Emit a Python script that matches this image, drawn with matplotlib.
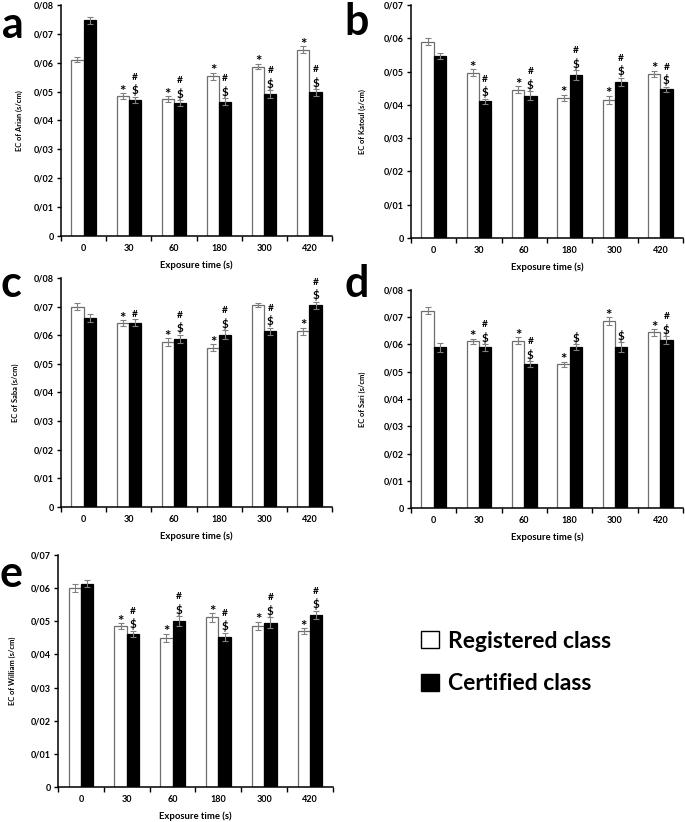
import numpy as np
import matplotlib
matplotlib.use('agg')
import matplotlib.pyplot as plt
from matplotlib.patches import Patch

plt.rcParams['font.family'] = ['Lato', 'DejaVu Sans']
plt.rcParams['font.weight'] = 'bold'

times = ['0', '30', '60', '180', '300', '420']

# a - Arian
arian_reg = [0.0610, 0.0484, 0.0474, 0.0553, 0.0587, 0.0645]
arian_reg_err = [0.0009, 0.0010, 0.0011, 0.0012, 0.0010, 0.0012]
arian_cert = [0.0747, 0.0472, 0.0460, 0.0465, 0.0491, 0.0497]
arian_cert_err = [0.0012, 0.0011, 0.0011, 0.0013, 0.0013, 0.0012]
arian_star = [0, 1, 1, 1, 1, 1]
arian_mark = ['', '#$', '#$', '#$', '#$', '#$']

# b - Katoul
katoul_reg = [0.0590, 0.0497, 0.0446, 0.0421, 0.0416, 0.0494]
katoul_reg_err = [0.0011, 0.0010, 0.0010, 0.0010, 0.0012, 0.0009]
katoul_cert = [0.0547, 0.0411, 0.0428, 0.0490, 0.0469, 0.0447]
katoul_cert_err = [0.0010, 0.0007, 0.0013, 0.0014, 0.0013, 0.0007]
katoul_star = [0, 1, 1, 1, 1, 1]
katoul_mark = ['', '#$', '#$', '#$', '#$', '#$']

# c - Saba
saba_reg = [0.0700, 0.0642, 0.0577, 0.0557, 0.0705, 0.0614]
saba_reg_err = [0.0012, 0.0010, 0.0013, 0.0011, 0.0006, 0.0012]
saba_cert = [0.0659, 0.0644, 0.0588, 0.0602, 0.0614, 0.0705]
saba_cert_err = [0.0014, 0.0012, 0.0014, 0.0015, 0.0013, 0.0012]
saba_star = [0, 1, 1, 1, 0, 1]
saba_mark = ['', '#', '#$', '#$', '#$', '#$']

# d - Sari
sari_reg = [0.0724, 0.0612, 0.0614, 0.0527, 0.0687, 0.0645]
sari_reg_err = [0.0012, 0.0010, 0.0013, 0.0010, 0.0014, 0.0012]
sari_cert = [0.0589, 0.0589, 0.0527, 0.0589, 0.0590, 0.0616]
sari_cert_err = [0.0016, 0.0012, 0.0011, 0.0011, 0.0018, 0.0015]
sari_star = [0, 1, 1, 1, 1, 1]
sari_mark = ['', '#$', '#$', '$', '$', '#$']

# e - William
william_reg = [0.0600, 0.0485, 0.0450, 0.0512, 0.0487, 0.0470]
william_reg_err = [0.0012, 0.0009, 0.0012, 0.0013, 0.0012, 0.0009]
william_cert = [0.0614, 0.0462, 0.0500, 0.0453, 0.0496, 0.0519]
william_cert_err = [0.0011, 0.0010, 0.0015, 0.0013, 0.0016, 0.0013]
william_star = [0, 1, 1, 1, 1, 1]
william_mark = ['', '#$', '#$', '#$', '#$', '#$']

W, H = 685, 822
fig = plt.figure(figsize=(W / 100, H / 100), dpi=100)


def ax_at(left, right, top, bottom):
    return fig.add_axes([left / W, 1 - bottom / H, (right - left) / W, (bottom - top) / H])


def fmt_y(v, pos):
    if abs(v) < 1e-9:
        return '0'
    return '0/%02d' % round(v * 100)


def draw_panel(ax, reg, reg_err, cert, cert_err, star, mark, ymax, name, ylab_x):
    x = np.arange(len(times))
    bw = 0.27
    ekw = dict(ecolor='#808080', elinewidth=0.8, capsize=2.2, capthick=0.8)
    ax.bar(x - bw / 2, reg, bw, yerr=reg_err, color='white', edgecolor='#6e6e6e',
           linewidth=0.9, error_kw=ekw, zorder=2)
    ax.bar(x + bw / 2, cert, bw, yerr=cert_err, color='black', edgecolor='black',
           linewidth=0.9, error_kw=ekw, zorder=2)

    for i in range(len(times)):
        if star[i]:
            ax.annotate('*', (x[i] - bw / 2, reg[i] + reg_err[i]), xytext=(0, -4),
                        textcoords='offset points', ha='center', va='bottom',
                        fontsize=11, fontweight='bold')
        m = mark[i]
        top = cert[i] + cert_err[i]
        off = 0.3
        if '$' in m:
            ax.annotate('$', (x[i] + bw / 2, top), xytext=(0, off),
                        textcoords='offset points', ha='center', va='bottom',
                        fontsize=8.3, fontweight='bold')
            off += 10.5
        if '#' in m:
            ax.annotate('#', (x[i] + bw / 2, top), xytext=(0, off),
                        textcoords='offset points', ha='center', va='bottom',
                        fontsize=7.3, fontweight='bold')

    ax.set_xlim(-0.5, len(times) - 0.5)
    ax.set_ylim(0, ymax)
    ax.set_yticks(np.arange(0, ymax + 0.001, 0.01))
    ax.yaxis.set_major_formatter(plt.FuncFormatter(fmt_y))
    ax.set_xticks(x)
    ax.set_xticklabels(times)
    ax.set_xticks(np.arange(-0.5, len(times), 1.0), minor=True)
    ax.tick_params(axis='x', which='major', length=0, pad=6, labelsize=6.5)
    ax.tick_params(axis='x', which='minor', length=3.5, width=1, direction='out')
    ax.tick_params(axis='y', length=3, width=1, direction='out', labelsize=6.5, pad=2)
    for lab in ax.get_xticklabels() + ax.get_yticklabels():
        lab.set_fontweight('bold')
    for s in ['top', 'right']:
        ax.spines[s].set_visible(False)
    for s in ['left', 'bottom']:
        ax.spines[s].set_linewidth(1.1)
    ax.set_xlabel('Exposure time (s)', fontsize=6.8, fontweight='bold', labelpad=5)
    ax.set_ylabel('EC of %s (s/cm)' % name, fontsize=5.4, fontweight='bold')
    pos = ax.get_position()
    ax.yaxis.set_label_coords((ylab_x / W - pos.x0) / pos.width, 0.5)


ax_a = ax_at(61, 332, 5, 236)
draw_panel(ax_a, arian_reg, arian_reg_err, arian_cert, arian_cert_err,
           arian_star, arian_mark, 0.08, 'Arian', 23)
ax_b = ax_at(411, 683, 5, 238)
draw_panel(ax_b, katoul_reg, katoul_reg_err, katoul_cert, katoul_cert_err,
           katoul_star, katoul_mark, 0.07, 'Katoul', 366)
ax_c = ax_at(61, 332, 278, 507)
draw_panel(ax_c, saba_reg, saba_reg_err, saba_cert, saba_cert_err,
           saba_star, saba_mark, 0.08, 'Saba', 19)
ax_d = ax_at(411, 683, 290, 508)
draw_panel(ax_d, sari_reg, sari_reg_err, sari_cert, sari_cert_err,
           sari_star, sari_mark, 0.08, 'Sari', 366)
ax_e = ax_at(58, 333, 555, 787)
draw_panel(ax_e, william_reg, william_reg_err, william_cert, william_cert_err,
           william_star, william_mark, 0.07, 'William', 16)

# panel letters
for letter, px, py in [('a', 2, 25), ('b', 344, 22), ('c', 0, 284), ('d', 344, 284), ('e', 0, 574)]:
    fig.text(px / W, 1 - py / H, letter, fontsize=31, fontweight='bold',
             ha='left', va='center')

handles = [Patch(facecolor='white', edgecolor='black', linewidth=1),
           Patch(facecolor='black', edgecolor='black', linewidth=1)]
fig.legend(handles, ['Registered class', 'Certified class'],
           loc='upper left', bbox_to_anchor=(400 / W, 1 - 610 / H),
           frameon=False, handlelength=0.8, handleheight=0.8,
           handletextpad=0.4, labelspacing=0.95, prop={'weight': 'bold', 'size': 16.5})

fig.savefig('out.png', dpi=100)
